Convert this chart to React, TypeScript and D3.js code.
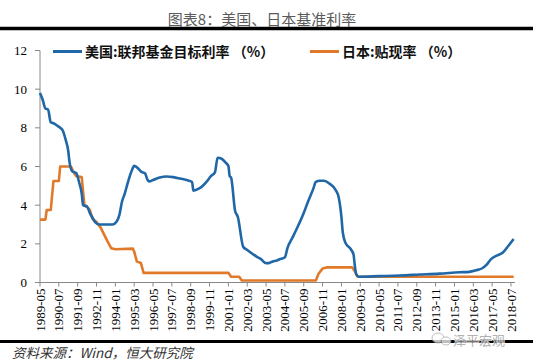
import React, { useEffect, useRef } from "react";
import * as d3 from "d3";

// 美国:联邦基金目标利率
const usDates = [
  "1989-05", "1989-07", "1989-09", "1989-11", "1990-01", "1990-03", "1990-06", "1990-08",
  "1990-10", "1990-12", "1991-02", "1991-03", "1991-05", "1991-08", "1991-10", "1991-12",
  "1992-01", "1992-04", "1992-06", "1992-08", "1992-10", "1993-01", "1993-11", "1994-02",
  "1994-04", "1994-06", "1994-08", "1994-10", "1995-01", "1995-03", "1995-06", "1995-08",
  "1995-11", "1996-01", "1996-02", "1996-05", "1996-10", "1997-03", "1997-08", "1998-01",
  "1998-06", "1998-10", "1998-11", "1999-03", "1999-06", "1999-09", "1999-12", "2000-03",
  "2000-05", "2000-08", "2000-11", "2001-01", "2001-02", "2001-03", "2001-06", "2001-08",
  "2001-12", "2002-03", "2002-10", "2003-01", "2003-05", "2003-07", "2003-10", "2004-01",
  "2004-03", "2004-07", "2004-09", "2005-01", "2005-05", "2005-09", "2005-12", "2006-04",
  "2006-06", "2006-09", "2006-12", "2007-04", "2007-09", "2007-11", "2008-01", "2008-02",
  "2008-04", "2008-08", "2008-10", "2008-11", "2008-12", "2009-02", "2010-05", "2011-08",
  "2012-11", "2014-02", "2015-05", "2015-12", "2016-05", "2016-10", "2017-01", "2017-04",
  "2017-08", "2018-01", "2018-05", "2018-09",
];
const usRates = [
  9.8, 9.45, 9.0, 8.95, 8.28, 8.24, 8.1, 8.0,
  7.85, 7.4, 6.8, 6.2, 5.75, 5.65, 5.2, 4.6,
  4.0, 3.93, 3.6, 3.35, 3.12, 3.0, 3.0, 3.15,
  3.5, 4.2, 4.6, 5.1, 5.75, 6.03, 5.9, 5.74,
  5.65, 5.3, 5.23, 5.3, 5.43, 5.48, 5.45, 5.38,
  5.3, 5.2, 4.75, 4.85, 5.0, 5.23, 5.5, 5.7,
  6.45, 6.4, 6.2, 6.03, 5.5, 5.43, 3.7, 3.4,
  1.85, 1.68, 1.34, 1.22, 1.0, 1.0, 1.09, 1.14,
  1.2, 1.31, 1.8, 2.37, 2.96, 3.6, 4.15, 4.83,
  5.2, 5.26, 5.26, 5.12, 4.75, 4.4, 3.4, 2.6,
  2.05, 1.72, 1.45, 0.85, 0.42, 0.3, 0.33, 0.36,
  0.41, 0.46, 0.53, 0.55, 0.63, 0.75, 0.92, 1.2,
  1.38, 1.55, 1.89, 2.25,
];

// 日本:贴现率
const jpDates = [
  "1989-05", "1989-09", "1989-10", "1990-01", "1990-03", "1990-07", "1990-08", "1991-04",
  "1991-06", "1991-08", "1991-12", "1992-02", "1992-04", "1992-06", "1992-08", "1992-11",
  "1993-02", "1993-07", "1993-10", "1994-01", "1995-02", "1995-03", "1995-05", "1995-07",
  "1995-08", "1995-10", "2001-01", "2001-03", "2001-09", "2001-11", "2006-06", "2006-08",
  "2006-11", "2007-02", "2008-09", "2008-11", "2009-01", "2018-09",
];
const jpRates = [
  3.25, 3.25, 3.75, 3.75, 5.25, 5.25, 6.0, 6.0,
  5.7, 5.5, 5.45, 4.0, 3.9, 3.75, 3.3, 3.13,
  2.85, 2.15, 1.77, 1.72, 1.75, 1.6, 1.08, 1.04,
  1.0, 0.5, 0.5, 0.3, 0.3, 0.1, 0.1, 0.45,
  0.72, 0.78, 0.78, 0.58, 0.3, 0.3,
];

const xTickLabels = [
  "1989-05", "1990-07", "1991-09", "1992-11", "1994-01", "1995-03", "1996-05", "1997-07",
  "1998-09", "1999-11", "2001-01", "2002-03", "2003-05", "2004-07", "2005-09", "2006-11",
  "2008-01", "2009-03", "2010-05", "2011-07", "2012-09", "2013-11", "2015-01", "2016-03",
  "2017-05", "2018-07",
];
const yTicks = [0, 2, 4, 6, 8, 10, 12];

const seriesNames = ["美国:联邦基金目标利率 （%）", "日本:贴现率 （%）"];
const seriesColors = ["#1f67a7", "#e07a2a"];

const monthIndex = (s: string) => {
  const [y, m] = s.split("-").map(Number);
  return (y - 1989) * 12 + (m - 5);
};

const W = 533;
const H = 362;
const SERIF = "'Liberation Serif', 'Times New Roman', serif";
const CJK = "'Noto Sans CJK SC', sans-serif";

export default function App() {
  const svgRef = useRef<SVGSVGElement>(null);

  useEffect(() => {
    if (!svgRef.current) return;
    const svg = d3.select(svgRef.current);
    svg.selectAll("*").remove();

    const x = d3.scaleLinear().domain([0, 353]).range([40, 515]);
    const y = d3.scaleLinear().domain([0, 12]).range([282.5, 50.5]);

    // 标题
    svg
      .append("text")
      .attr("x", 262)
      .attr("y", 25)
      .attr("text-anchor", "middle")
      .style("font-family", CJK)
      .style("font-size", "15px")
      .style("fill", "#5a5a5a")
      .text("图表8：美国、日本基准利率");

    svg.append("line").attr("x1", 0).attr("x2", W).attr("y1", 28.5).attr("y2", 28.5)
      .attr("stroke", "#000").attr("stroke-width", 3.5);

    // Y轴
    const yAxis = svg.append("g").attr("transform", "translate(40,0)");
    yAxis.append("line").attr("x1", 0).attr("x2", 0).attr("y1", y(12)).attr("y2", y(0))
      .attr("stroke", "#888").attr("stroke-width", 1);
    yTicks.forEach((t) => {
      yAxis.append("line").attr("x1", -5).attr("x2", 0).attr("y1", y(t)).attr("y2", y(t))
        .attr("stroke", "#888");
      yAxis.append("text")
        .attr("x", -13)
        .attr("y", y(t))
        .attr("dy", "0.35em")
        .attr("text-anchor", "end")
        .style("font-family", SERIF)
        .style("font-size", "13px")
        .style("fill", "#000")
        .text(String(t));
    });

    // X轴
    const xAxis = svg.append("g");
    xAxis.append("line").attr("x1", x(0)).attr("x2", x(353)).attr("y1", y(0)).attr("y2", y(0))
      .attr("stroke", "#888");
    xTickLabels.forEach((lab) => {
      const px = x(monthIndex(lab));
      xAxis.append("line").attr("x1", px).attr("x2", px).attr("y1", y(0)).attr("y2", y(0) + 4)
        .attr("stroke", "#888");
      xAxis.append("text")
        .attr("transform", `translate(${px},${y(0) + 6}) rotate(-90)`)
        .attr("dy", "0.35em")
        .attr("text-anchor", "end")
        .style("font-family", SERIF)
        .style("font-size", "13px")
        .style("fill", "#000")
        .text(lab);
    });

    // 折线
    const usData = usDates.map((d, i) => ({ m: monthIndex(d), v: usRates[i] }));
    const jpData = jpDates.map((d, i) => ({ m: monthIndex(d), v: jpRates[i] }));

    const usLine = d3.line<{ m: number; v: number }>()
      .x((d) => x(d.m)).y((d) => y(d.v)).curve(d3.curveMonotoneX);
    const jpLine = d3.line<{ m: number; v: number }>()
      .x((d) => x(d.m)).y((d) => y(d.v));

    svg.append("path").datum(jpData).attr("d", jpLine).attr("fill", "none")
      .attr("stroke", seriesColors[1]).attr("stroke-width", 2.6).attr("stroke-linejoin", "round");
    svg.append("path").datum(usData).attr("d", usLine).attr("fill", "none")
      .attr("stroke", seriesColors[0]).attr("stroke-width", 2.6).attr("stroke-linejoin", "round");

    // 图例
    const legendPos = [
      { lx: 53, tx: 85 },
      { lx: 310, tx: 342 },
    ];
    seriesNames.forEach((name, i) => {
      const p = legendPos[i];
      svg.append("line").attr("x1", p.lx).attr("x2", p.lx + 29).attr("y1", 51.5).attr("y2", 51.5)
        .attr("stroke", seriesColors[i]).attr("stroke-width", 3);
      svg.append("text")
        .attr("x", p.tx)
        .attr("y", 51.5)
        .attr("dy", "0.36em")
        .style("font-family", CJK)
        .style("font-size", "14px")
        .style("font-weight", "bold")
        .style("fill", "#111")
        .text(name);
    });

    // 底部
    svg.append("line").attr("x1", 0).attr("x2", W).attr("y1", 341.5).attr("y2", 341.5)
      .attr("stroke", "#000").attr("stroke-width", 3);

    svg.append("text")
      .attr("x", 12)
      .attr("y", 358)
      .style("font-family", CJK)
      .style("font-size", "13.5px")
      .style("font-style", "italic")
      .style("fill", "#333")
      .text("资料来源：Wind，恒大研究院");

    const wm = svg.append("g").attr("opacity", 0.75);
    wm.append("ellipse").attr("cx", 438).attr("cy", 338).attr("rx", 6).attr("ry", 5)
      .attr("fill", "#fff").attr("stroke", "#aaa");
    wm.append("ellipse").attr("cx", 446).attr("cy", 341).attr("rx", 5).attr("ry", 4)
      .attr("fill", "#fff").attr("stroke", "#aaa");
    wm.append("text")
      .attr("x", 505)
      .attr("y", 345)
      .attr("text-anchor", "end")
      .style("font-family", CJK)
      .style("font-size", "13px")
      .style("fill", "#999")
      .style("stroke", "#fff")
      .style("stroke-width", "2px")
      .style("paint-order", "stroke")
      .text("泽平宏观");
  }, []);

  return (
    <div style={{ position: "fixed", left: 0, top: 0, background: "#fff" }}>
      <svg ref={svgRef} width={W} height={H} style={{ display: "block" }} />
    </div>
  );
}
